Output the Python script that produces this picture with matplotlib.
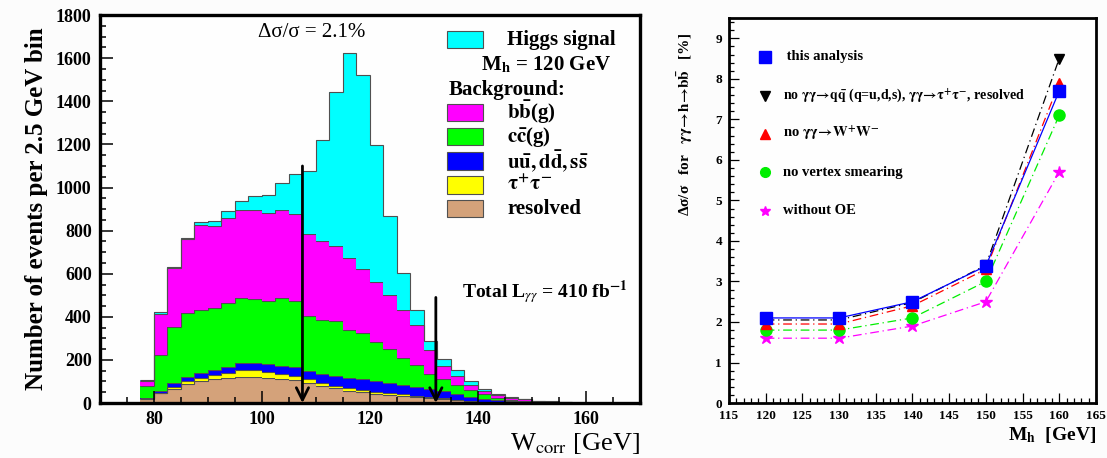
import numpy as np
import matplotlib.pyplot as plt
from matplotlib.patches import Rectangle
from matplotlib.ticker import MultipleLocator

plt.rcParams['font.family'] = ['Liberation Serif', 'DejaVu Serif']
plt.rcParams['mathtext.fontset'] = 'stix'

# ---- left panel: stacked W_corr histogram (2.5 GeV bins, 77.5 - 157.5 GeV) ----
bin_edges = np.arange(77.5, 157.6, 2.5)

resolved = [20, 46, 65, 88, 103, 113, 118, 121, 121, 118, 113, 107, 92, 80, 68, 58,
            50, 44, 38, 33, 28, 23, 18, 13, 8, 5, 3, 2, 1, 0.5, 0, 0]
tautau = [1, 2, 8, 12, 15, 18, 22, 30, 32, 28, 22, 20, 18, 15, 13, 11,
          10, 9, 8, 7, 6, 5, 4, 3, 2, 1, 1, 0.5, 0.3, 0, 0, 0]
uds = [4, 10, 19, 20, 22, 23, 28, 33, 35, 33, 37, 38, 39, 42, 43, 48,
       50, 50, 48, 45, 42, 38, 33, 27, 20, 14, 10, 7, 5, 3, 2, 1.5]
ccg = [55, 167, 260, 297, 294, 287, 294, 304, 297, 293, 316, 307, 254, 246, 256, 224,
       215, 182, 156, 125, 99, 69, 55, 42, 30, 20, 11, 5.5, 2.7, 1.5, 1, 0.5]
bbg = [24, 190, 273, 342, 392, 380, 398, 407, 413, 411, 410, 403, 382, 371, 348, 333,
       298, 275, 250, 220, 185, 110, 60, 40, 25, 15, 13, 9, 8, 5, 4, 2]
signal = [4, 6, 5, 6, 14, 23, 32, 42, 61, 80, 124, 188, 292, 467, 713, 948,
          900, 637, 367, 174, 74, 45, 35, 27, 16, 12, 5, 4, 2, 1, 1, 1]

cut_low = 107.5
cut_high = 132.2

# ---- right panel: relative precision vs Higgs mass ----
mh = [120, 130, 140, 150, 160]
this_analysis = [2.1, 2.1, 2.5, 3.38, 7.7]
no_qq_tau_res = [2.05, 2.05, 2.48, 3.4, 8.5]
no_ww = [1.95, 1.95, 2.4, 3.3, 7.9]
no_vertex = [1.8, 1.8, 2.1, 3.0, 7.1]
without_oe = [1.6, 1.6, 1.9, 2.5, 5.7]

fig = plt.figure(figsize=(11.07, 4.58), dpi=100)
fig.patch.set_facecolor('#fcfcfc')

# ================= left panel =================
ax1 = fig.add_axes([0.0903, 0.120, 0.4878, 0.847])
ax1.set_facecolor('#fefefe')

layers = [(resolved, '#d4a27a'), (tautau, '#ffff00'), (uds, '#0000ff'),
          (ccg, '#00ff00'), (bbg, '#ff00ff'), (signal, '#00ffff')]
bottom = np.zeros(len(signal))
for vals, col in layers:
    top = bottom + np.array(vals, dtype=float)
    ax1.stairs(top, bin_edges, baseline=bottom, fill=True, color=col, lw=0)
    ax1.stairs(top, bin_edges, baseline=None, color='#505050', lw=0.8)
    bottom = top

for xc, ytop in [(cut_low, 1100), (cut_high, 490)]:
    ax1.annotate('', xy=(xc, 0), xytext=(xc, ytop),
                 arrowprops=dict(arrowstyle='->', lw=2, color='black',
                                 mutation_scale=22, shrinkA=0, shrinkB=0))

ax1.set_xlim(70, 170)
ax1.set_ylim(0, 1800)
ax1.xaxis.set_major_locator(MultipleLocator(20))
ax1.xaxis.set_minor_locator(MultipleLocator(5))
ax1.yaxis.set_major_locator(MultipleLocator(200))
ax1.yaxis.set_minor_locator(MultipleLocator(50))
ax1.tick_params(which='both', direction='in', top=False, right=False, width=1.1)
ax1.tick_params(which='major', length=9, labelsize=13, pad=6)
ax1.tick_params(which='minor', length=4.5)
for lab in ax1.get_xticklabels() + ax1.get_yticklabels():
    lab.set_fontweight('bold')
for sp in ax1.spines.values():
    sp.set_linewidth(2.4)

ax1.set_ylabel('Number of events per 2.5 GeV bin', fontsize=18, fontweight='bold', labelpad=6)
ax1.set_xlabel(r'W$_{\mathrm{corr}}$ [GeV]', fontsize=19, loc='right', labelpad=2)

ax1.text(0.392, 0.955, 'Δσ/σ = 2.1%', transform=ax1.transAxes, fontsize=15,
         ha='center', va='center')
ax1.text(0.670, 0.285, r'Total L$_{\gamma\gamma}$ = 410 fb$^{\mathbf{-1}}$',
         transform=ax1.transAxes, fontsize=14, fontweight='bold', ha='left', va='center')

# legend drawn by hand (ROOT style)
leg_rows = [('Higgs signal', '#00ffff', 0.936),
            (r'$\mathbf{b\bar{b}}$(g)', '#ff00ff', 0.750),
            (r'$\mathbf{c\bar{c}}$(g)', '#00ff00', 0.686),
            (r'$\mathbf{u\bar{u},d\bar{d},s\bar{s}}$', '#0000ff', 0.624),
            (r'$\mathbf{\tau^{+}\tau^{-}}$', '#ffff00', 0.562),
            ('resolved', '#d4a27a', 0.501)]
for txt, col, yy in leg_rows:
    ax1.add_patch(Rectangle((0.642, yy - 0.022), 0.067, 0.044, transform=ax1.transAxes,
                            facecolor=col, edgecolor='#505050', lw=0.8))
    ax1.text(0.754, yy, txt, transform=ax1.transAxes, fontsize=15, fontweight='bold',
             ha='left', va='center')
ax1.text(0.705, 0.871, r'M$_{\mathbf{h}}$ = 120 GeV', transform=ax1.transAxes, fontsize=15,
         fontweight='bold', ha='left', va='center')
ax1.text(0.646, 0.808, 'Background:', transform=ax1.transAxes, fontsize=15,
         fontweight='bold', ha='left', va='center')

# ================= right panel =================
ax2 = fig.add_axes([0.6585, 0.120, 0.3315, 0.8406])
ax2.set_facecolor('#fefefe')

series = [
    (no_qq_tau_res, 'black', 'v', 7, (0, (7, 3, 1, 3))),
    (without_oe, '#ff00ff', '*', 9, (0, (7, 3, 1, 3))),
    (no_vertex, '#00ee00', 'o', 8, (0, (7, 3, 1, 3))),
    (no_ww, 'red', '^', 7, (0, (7, 3, 1, 3))),
    (this_analysis, 'blue', 's', 9, '-'),
]
for vals, col, mk, ms, ls in series:
    ax2.plot(mh, vals, color=col, lw=0.9, ls=ls, marker=mk, ms=ms,
             markerfacecolor=col, markeredgecolor=col)

leg2 = [('s', 'blue', 8, ' this analysis', 0.899, 10.5),
        ('v', 'black', 6.5, r'no $\mathbf{\gamma\gamma\!\rightarrow\! q\bar{q}}$ (q=u,d,s), '
                            r'$\mathbf{\gamma\gamma\!\rightarrow\!\tau^{+}\tau^{-}}$, resolved', 0.797, 10),
        ('^', 'red', 6.5, r'no $\mathbf{\gamma\gamma\!\rightarrow\! W^{+}W^{-}}$', 0.699, 10.5),
        ('o', '#00ee00', 7, 'no vertex smearing', 0.600, 10.5),
        ('*', '#ff00ff', 7, 'without OE', 0.499, 10.5)]
for mk, col, ms, txt, yy, fs in leg2:
    ax2.plot([0.098], [yy], transform=ax2.transAxes, marker=mk, ms=ms, color=col, ls='none')
    ax2.text(0.147, yy, txt, transform=ax2.transAxes, fontsize=fs, fontweight='bold',
             ha='left', va='center')

ax2.set_xlim(115, 165)
ax2.set_ylim(0, 9.5)
ax2.xaxis.set_major_locator(MultipleLocator(5))
ax2.xaxis.set_minor_locator(MultipleLocator(1))
ax2.yaxis.set_major_locator(MultipleLocator(1))
ax2.yaxis.set_minor_locator(MultipleLocator(0.2))
ax2.tick_params(which='both', direction='in', top=False, right=False, width=0.9)
ax2.tick_params(which='major', length=7, labelsize=9.5, pad=5)
ax2.tick_params(which='minor', length=3.5)
for lab in ax2.get_xticklabels() + ax2.get_yticklabels():
    lab.set_fontweight('bold')
for sp in ax2.spines.values():
    sp.set_linewidth(2.0)

ax2.set_xlabel(r'M$_{\mathbf{h}}$  [GeV]', fontsize=14, fontweight='bold', loc='right', labelpad=2)
fig.text(685 / 1107, 1 - 125 / 458,
         r'Δσ/σ   for   $\mathbf{\gamma\gamma\!\rightarrow\! h\!\rightarrow\! b\bar{b}}$   [%]',
         rotation=90, fontsize=11, fontweight='bold', ha='center', va='center')

fig.savefig('out.png', dpi=100, facecolor=fig.get_facecolor())
